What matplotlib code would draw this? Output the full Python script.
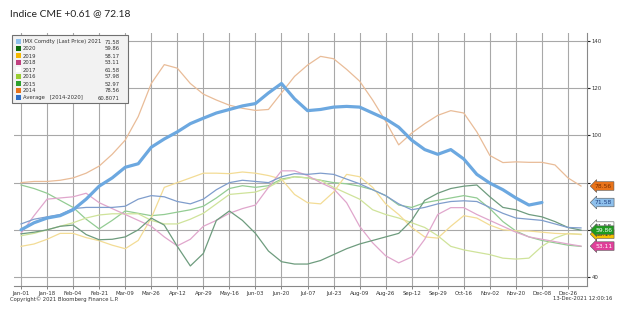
import numpy as np
import matplotlib
matplotlib.use("Agg")
import matplotlib.pyplot as plt
from matplotlib.patches import Rectangle
import matplotlib.transforms as mtransforms

# ---------------- data ----------------
tick_labels = ["Jan-01", "Jan-18", "Feb-04", "Feb-21", "Mar-09", "Mar-26", "Apr-12",
               "Apr-29", "May-16", "Jun-03", "Jun-20", "Jul-07", "Jul-23", "Aug-09",
               "Aug-26", "Sep-12", "Sep-29", "Oct-16", "Nov-02", "Nov-20", "Dec-08",
               "Dec-26"]

# values sampled every half tick interval (Jan-01 .. year end)
y2014 = [80, 80.5, 80.5, 81, 82, 84, 87, 92, 98, 108, 122, 130, 128.5, 122, 117.5, 115,
         112.8, 111.5, 110.6, 111, 118, 125, 129.8, 133.5, 132.5, 128, 123, 115, 106, 96,
         101, 105, 108.5, 110.5, 109.5, 101.5, 91.5, 88.5, 88.8, 88.6, 88.6, 87.5, 82, 78.56]
y2015 = [79, 77.5, 75.5, 72.5, 69.5, 64.5, 60.4, 64, 68, 67, 66, 66.5, 67.5, 68.5, 70,
         73.5, 77.5, 78.7, 78, 78.7, 81.5, 82.5, 82, 81, 80, 79.5, 78.5, 77, 74.5, 70.5,
         69.5, 71.5, 72.5, 73.5, 74.5, 73.5, 69, 63.5, 59.5, 57, 55.5, 54.5, 53.5, 52.97]
y2016 = [57.5, 58.5, 60, 61.5, 63, 65, 66.3, 66.8, 66.8, 66.8, 64, 62.5, 62.5, 64.5, 67,
         71, 75, 75.5, 76, 78, 81, 82.5, 82, 81, 78, 75.5, 73, 68.5, 66.5, 65, 63, 61,
         57.5, 53, 51.5, 50.5, 49.5, 48, 47.6, 48, 53, 56.5, 58.5, 57.98]
y2018 = [58.5, 66, 73, 73.5, 74, 75.5, 71.5, 69, 66.5, 64, 61.5, 57, 53.2, 56, 61.5, 64,
         67, 69, 70.5, 78, 85, 85, 83, 80, 77.4, 71.5, 61.5, 54.5, 49, 46, 48.5, 56, 66.5,
         69.4, 69.4, 66.5, 64, 61.5, 59, 57, 56, 55, 54, 53.11]
y2019 = [53, 54, 56, 58.5, 58.5, 56.7, 55.4, 53.5, 52, 55.5, 65, 78, 80, 82, 84, 84, 83.8,
         84.5, 84, 83, 81.5, 75, 71.5, 71, 76, 83.5, 82.5, 78, 71, 66.5, 61, 57, 56.5,
         61.5, 66, 65, 62, 60, 59.6, 59.5, 59, 58.5, 58.3, 58.17]
y2020 = [58.3, 59, 60, 61.5, 62, 58, 55.8, 56, 57, 60, 65, 62, 53, 44.7, 50, 64, 68, 64,
         58.5, 51, 46.5, 45.5, 45.5, 47, 49.5, 52, 54, 55.5, 57, 58.5, 64, 72.5, 75.5,
         77.5, 78.5, 79, 74, 69.5, 68.5, 66.5, 65.5, 63.5, 61, 59.86]
y_avg = [62.5, 64.5, 65.5, 66.5, 69, 69.5, 69.5, 69.5, 70, 73, 74.5, 74, 72, 71, 73, 77,
         80, 81, 80.5, 80, 82.5, 83.8, 83.5, 84, 83.5, 81.5, 79.5, 77, 74.5, 71, 68.5,
         69.5, 71, 72, 72.3, 72, 69.5, 67, 65, 64.5, 64, 62.5, 61, 60.81]
y2021 = [60, 63, 65, 66, 68.5, 73, 78.5, 82, 86.5, 88, 95, 98.5, 101.5, 105, 107.3, 109.5,
         111, 112.5, 113.5, 118, 122, 115.5, 110.5, 111, 112, 112.3, 112, 109.5, 107,
         103.5, 98, 94, 92, 94, 90, 83.5, 79.8, 77, 73.5, 70.5, 71.58]

legend_names = ["IMX Comdty (Last Price) 2021", "2020", "2019", "2018", "2017", "2016",
                "2015", "2014", "Average   [2014-2020]"]
legend_values = ["71.58", "59.86", "58.17", "53.11", "61.58", "57.98", "52.97", "78.56",
                 "60.8071"]
legend_colors = ["#8EC0EC", "#0E6B0E", "#F5B800", "#C0407F", "#FFFFFF", "#9ACD32",
                 "#2EA02E", "#E8731A", "#2F6FC6"]

tag_values = [61.58, 58.17, 59.86, 53.11, 71.58, 78.56]
tag_texts = ["61.58", "58.17", "59.86", "53.11", "71.58", "78.56"]
tag_fc = ["#FFFFFF", "#F5C000", "#1F9A1F", "#E0409A", "#8EC0EC", "#E8731A"]
tag_tc = ["#333333", "#333333", "#FFFFFF", "#FFFFFF", "#1F3F7F", "#7A3000"]

# ---------------- figure ----------------
fig = plt.figure(figsize=(6.19, 3.21), dpi=100)
ax = fig.add_axes([14 / 619, 1 - 286 / 321, (587 - 14) / 619, (286 - 33) / 321])

def xs(vals):
    return np.arange(len(vals)) * 0.5

line_style = [
    (y2015, "#93CC93", 0.9),
    (y2016, "#CFE39A", 0.9),
    (y2019, "#F3DC95", 0.9),
    (y2018, "#E0A6CC", 0.9),
    (y2020, "#6E9C7E", 0.9),
    (y_avg, "#7F9DCC", 0.9),
    (y2014, "#E9BC98", 0.9),
]
for vals, col, lw in line_style:
    ax.plot(xs(vals), vals, color=col, lw=lw, zorder=3)
ax.plot(xs(y2021), y2021, color="#6CA8E0", lw=2.3, zorder=4, solid_capstyle="round")

ax.set_xlim(-0.27, 21.73)
ax.set_ylim(36.2, 143.4)
ax.set_xticks(np.arange(len(tick_labels)))
ax.set_xticklabels(tick_labels, fontsize=3.9, color="#333333")
ax.yaxis.tick_right()
ax.set_yticks([40, 60, 80, 100, 120, 140])
ax.set_yticklabels(["40", "", "", "100", "120", "140"], fontsize=3.9, color="#333333")
ax.tick_params(axis="x", length=2, width=0.5, pad=1.5, colors="#555555", labelcolor="#333333")
ax.tick_params(axis="y", length=2, width=0.8, pad=1.5, colors="#222222", labelcolor="#333333")
ax.grid(True, color="#A8A8A8", lw=0.8)
ax.set_axisbelow(True)
for s in ["top", "left"]:
    ax.spines[s].set_visible(False)
for s in ["bottom", "right"]:
    ax.spines[s].set_color("#888888")
    ax.spines[s].set_linewidth(0.8)

# value tags on the right
trans = mtransforms.blended_transform_factory(ax.transAxes, ax.transData)
for v, t, fc, tc in zip(tag_values, tag_texts, tag_fc, tag_tc):
    ax.text(1.014, v, t, transform=trans, fontsize=4.3, color=tc, va="center", ha="left",
            clip_on=False, zorder=6,
            bbox=dict(boxstyle="larrow,pad=0.3", fc=fc, ec="#555555", lw=0.4))

# legend box
lx0, ly0, lw_, lh = 12 / 619, 1 - 103 / 321, 116 / 619, 68 / 321
fig.patches.append(Rectangle((lx0, ly0), lw_, lh, transform=fig.transFigure,
                             fc="#F2F2F2", ec="#707070", lw=0.8, zorder=10))
row_y = np.linspace(42, 98, len(legend_names))
for ry, name, val, col in zip(row_y, legend_names, legend_values, legend_colors):
    yy = 1 - ry / 321
    fig.patches.append(Rectangle((16 / 619, yy - 2.3 / 321), 5 / 619, 5 / 321,
                                 transform=fig.transFigure, fc=col, ec="none", zorder=11))
    fig.text(23 / 619, yy, name, fontsize=3.8, va="center", ha="left", color="#333333",
             zorder=12)
    fig.text(120 / 619, yy, val, fontsize=3.8, va="center", ha="right", color="#333333",
             zorder=12)

fig.text(10 / 619, 1 - 14 / 321, "Indice CME +0.61 @ 72.18", fontsize=7.4, family="Lato",
         va="center", ha="left", color="#222222")
fig.text(10 / 619, 1 - 299 / 321, "Copyright\u00a9 2021 Bloomberg Finance L.P.", fontsize=3.8,
         va="center", ha="left", color="#333333")
fig.text(612 / 619, 1 - 299 / 321, "13-Dec-2021 12:00:16", fontsize=3.8,
         va="center", ha="right", color="#333333")

fig.savefig("out.png", dpi=100, facecolor="white")
